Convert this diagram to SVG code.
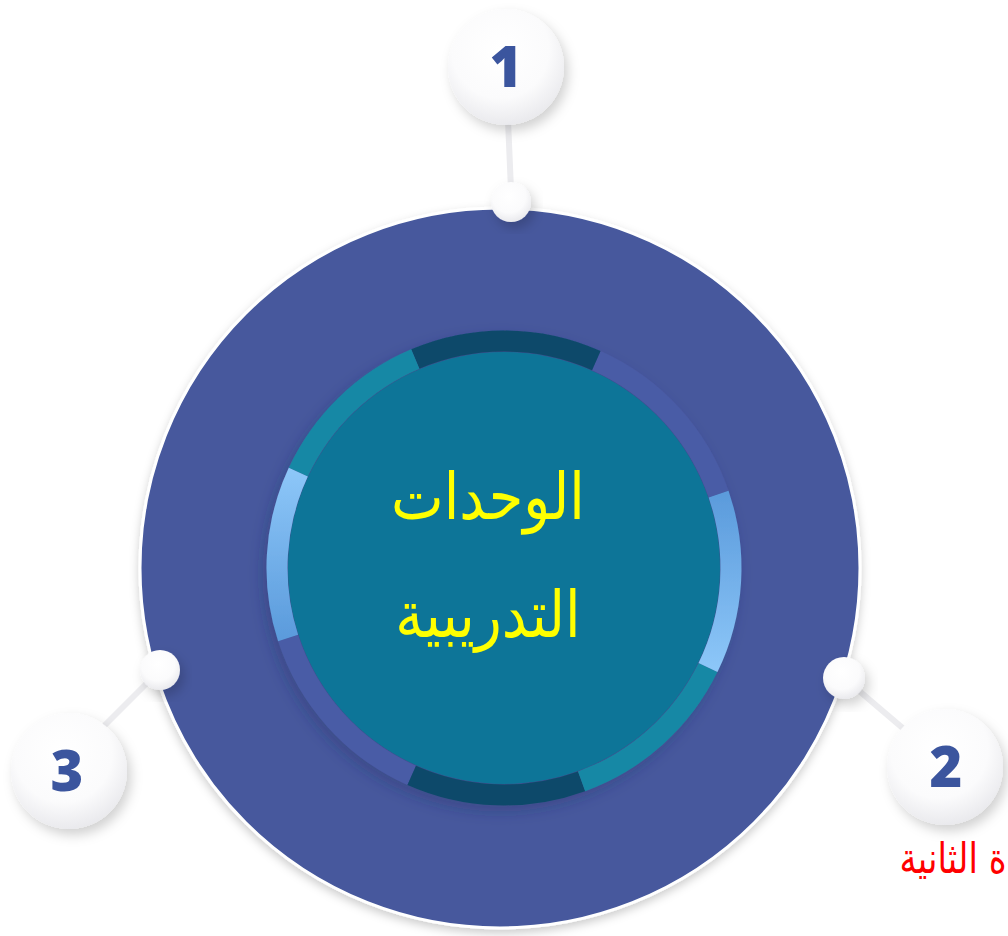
<svg xmlns="http://www.w3.org/2000/svg" width="1008" height="936" viewBox="0 0 1008 936">
  <style>
    .num { font-family: "Open Sans", "Lato", "DejaVu Sans", sans-serif; font-weight: 800; font-size: 56px; fill: #3b559e; text-anchor: middle; dominant-baseline: central; }
    .ar { font-family: "DejaVu Sans", "Noto Sans", sans-serif; text-anchor: middle; }
    .conn { stroke: #ececef; stroke-width: 6; stroke-linecap: round; fill: none; }
    .seg { fill: none; stroke-width: 21; }
  </style>
  <defs>
    <radialGradient id="ball" cx="0.45" cy="0.35" r="0.7">
      <stop offset="0" stop-color="#ffffff"/>
      <stop offset="0.6" stop-color="#fbfbfc"/>
      <stop offset="1" stop-color="#e6e6ea"/>
    </radialGradient>
    <linearGradient id="lbL" x1="0" y1="0" x2="0" y2="1">
      <stop offset="0" stop-color="#8cc6f8"/>
      <stop offset="1" stop-color="#5b9bdc"/>
    </linearGradient>
    <linearGradient id="lbR" x1="0" y1="0" x2="0" y2="1">
      <stop offset="0" stop-color="#5b9bdc"/>
      <stop offset="1" stop-color="#8cc6f8"/>
    </linearGradient>
    <filter id="shadow" x="-30%" y="-30%" width="160%" height="160%">
      <feDropShadow dx="4" dy="6" stdDeviation="6" flood-color="#000" flood-opacity="0.18"/>
    </filter>
    <filter id="shadowBig" x="-10%" y="-10%" width="120%" height="120%">
      <feDropShadow dx="0" dy="4" stdDeviation="5" flood-color="#000" flood-opacity="0.2"/>
    </filter>
    <filter id="innerShadow" x="-20%" y="-20%" width="140%" height="140%">
      <feDropShadow dx="-4" dy="6" stdDeviation="7" flood-color="#1c2a5e" flood-opacity="0.3"/>
    </filter>
  </defs>

  <rect width="1008" height="936" fill="#ffffff"/>

  <g id="connectors">
    <line class="conn" x1="508" y1="120" x2="511" y2="190"/>
    <line class="conn" x1="844" y1="678" x2="905" y2="730"/>
    <line class="conn" x1="160" y1="670" x2="105" y2="725"/>
  </g>

  <g id="hub">
    <circle cx="500" cy="568" r="360" fill="#46599d" stroke="#ffffff" stroke-width="3" filter="url(#shadowBig)"/>
    <g id="ring" filter="url(#innerShadow)">
      <circle cx="504" cy="568" r="216" fill="#0a7598"/>
      <path class="seg" stroke="#4a5ba6" d="M 596.3 360.6 A 227 227 0 0 1 718.6 494.1"/>
      <path class="seg" stroke="#4a5ba6" d="M 411.7 775.4 A 227 227 0 0 1 288.1 638.1"/>
      <path class="seg" stroke="#0e4a6b" d="M 415.3 359.0 A 227 227 0 0 1 596.3 360.6"/>
      <path class="seg" stroke="#1888a5" d="M 298.3 472.1 A 227 227 0 0 1 415.3 359.0"/>
      <path class="seg" stroke="url(#lbL)" d="M 288.1 638.1 A 227 227 0 0 1 298.3 472.1"/>
      <path class="seg" stroke="#0e4a6b" d="M 581.6 781.3 A 227 227 0 0 1 411.7 775.4"/>
      <path class="seg" stroke="#1888a5" d="M 708.0 667.5 A 227 227 0 0 1 581.6 781.3"/>
      <path class="seg" stroke="url(#lbR)" d="M 718.6 494.1 A 227 227 0 0 1 708.0 667.5"/>
    </g>
    <text class="ar" font-size="56" fill="#ffff00" transform="translate(488 519) scale(1 1.15)">الوحدات</text>
    <text class="ar" font-size="56" fill="#ffff00" transform="translate(488 637) scale(1 1.15)">التدريبية</text>
  </g>

  <g id="node1">
    <circle cx="506" cy="67" r="58" fill="url(#ball)" filter="url(#shadow)"/>
    <circle cx="511" cy="202" r="20" fill="url(#ball)" filter="url(#shadow)"/>
    <text class="num" x="506" y="65">1</text>
  </g>

  <g id="node2">
    <circle cx="945" cy="767" r="58" fill="url(#ball)" filter="url(#shadow)"/>
    <circle cx="844" cy="678" r="21" fill="url(#ball)" filter="url(#shadow)"/>
    <text class="num" x="946" y="765">2</text>
    <text class="ar" font-size="34" fill="#ff0000" transform="translate(953 873) scale(1 1.25)">ة الثانية</text>
  </g>

  <g id="node3">
    <circle cx="69" cy="771" r="58" fill="url(#ball)" filter="url(#shadow)"/>
    <circle cx="160" cy="670" r="20" fill="url(#ball)" filter="url(#shadow)"/>
    <text class="num" x="67" y="769">3</text>
  </g>
</svg>
